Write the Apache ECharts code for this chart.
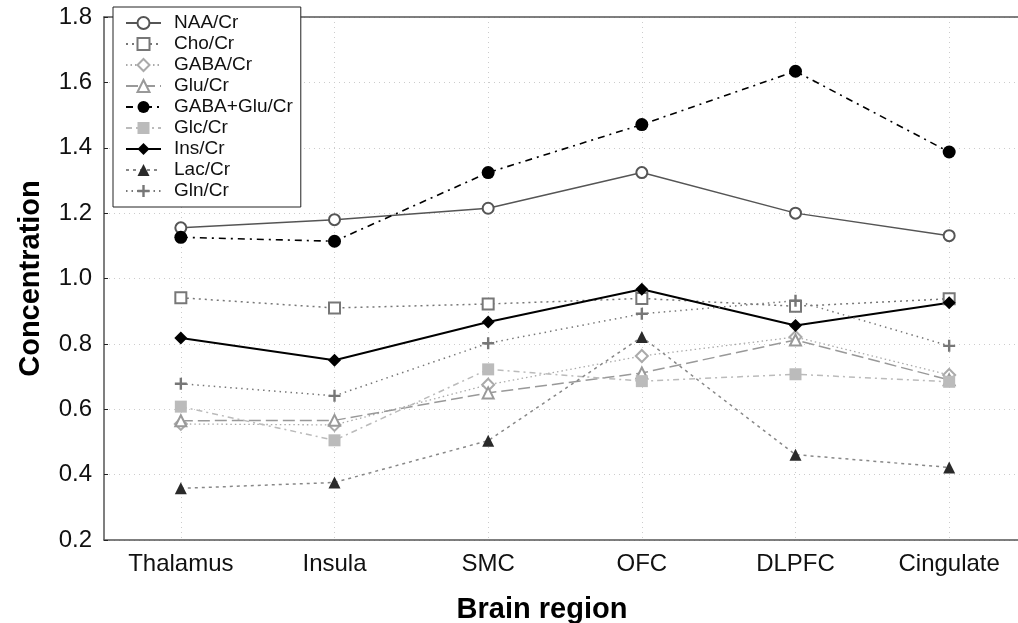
<!DOCTYPE html>
<html>
<head>
<meta charset="utf-8">
<script src="https://cdn.jsdelivr.net/npm/echarts@6/dist/echarts.min.js"></script>
<style>
  html, body { margin: 0; padding: 0; background: #fff; }
  #main { width: 1018px; height: 623px; }
</style>
</head>
<body>
<div id="main"></div>
<script>
var regions = ['Thalamus', 'Insula', 'SMC', 'OFC', 'DLPFC', 'Cingulate'];
var yTicks = [0.2, 1.8, 0.2]; // min, max, step

var naa = [1.155, 1.180, 1.215, 1.324, 1.200, 1.131];
var cho = [0.941, 0.910, 0.922, 0.939, 0.915, 0.938];
var gaba = [0.555, 0.552, 0.675, 0.763, 0.821, 0.705];
var glu = [0.565, 0.566, 0.650, 0.711, 0.812, 0.690];
var gabaGlu = [1.126, 1.114, 1.324, 1.471, 1.634, 1.387];
var glc = [0.608, 0.505, 0.722, 0.686, 0.707, 0.684];
var ins = [0.818, 0.750, 0.867, 0.967, 0.856, 0.926];
var lac = [0.358, 0.376, 0.504, 0.821, 0.461, 0.422];
var gln = [0.678, 0.641, 0.802, 0.892, 0.932, 0.794];

var chartDom = document.getElementById('main');
var myChart = echarts.init(chartDom);
var option;

var plus = 'path://M4,0H6V4H10V6H6V10H4V6H0V4H4Z';

function line(name, data, symbol, size, markColor, lineColor, lineType, width) {
    return {
        name: name,
        type: 'line',
        data: data,
        symbol: symbol,
        symbolSize: size,
        showAllSymbol: true,
        animation: false,
        itemStyle: { color: markColor, borderWidth: 1.5 },
        lineStyle: { color: lineColor, type: lineType, width: width }
    };
}

var series = [
    line('NAA/Cr', naa, 'emptyCircle', 11, '#555', '#555', 'solid', 1.5),
    line('Cho/Cr', cho, 'emptyRect', 11, '#777', '#777', [2, 4], 1.5),
    line('GABA/Cr', gaba, 'emptyDiamond', 12, '#aaa', '#aaa', [1.5, 3], 1.3),
    line('Glu/Cr', glu, 'emptyTriangle', 11, '#999', '#999', [12, 5], 1.5),
    line('GABA+Glu/Cr', gabaGlu, 'circle', 13, '#000', '#000', [7, 5, 2, 5], 1.6),
    line('Glc/Cr', glc, 'rect', 12, '#bbb', '#bbb', [6, 4, 2, 4], 1.5),
    line('Ins/Cr', ins, 'diamond', 13, '#000', '#000', 'solid', 2),
    line('Lac/Cr', lac, 'triangle', 12, '#2a2a2a', '#888', [3, 4], 1.5),
    line('Gln/Cr', gln, plus, 12, '#777', '#777', [1.5, 4], 1.5)
];

option = {
    backgroundColor: '#fff',
    textStyle: { fontFamily: 'Liberation Sans, Arial, sans-serif', color: '#000' },
    grid: { left: 104, right: -8, top: 17, bottom: 83, containLabel: false, outerBoundsMode: 'none' },
    legend: {
        data: series.map(function (s) { return s.name; }),
        orient: 'vertical',
        left: 113,
        top: 7,
        padding: [6, 8, 6, 12],
        itemWidth: 35,
        itemHeight: 15,
        itemGap: 1,
        borderColor: '#222',
        borderWidth: 1,
        backgroundColor: '#fff',
        z: 10,
        textStyle: { fontSize: 19, color: '#111', lineHeight: 20, padding: [0, 0, 0, 8] }
    },
    xAxis: [
        {
            type: 'category',
            data: regions,
            position: 'bottom',
            name: 'Brain region',
            nameLocation: 'middle',
            nameGap: 55,
            nameTextStyle: { fontSize: 29, fontWeight: 'bold', color: '#000', padding: [0, 46, 0, 0] },
            axisLine: { lineStyle: { color: '#555', width: 1.5 } },
            axisTick: { inside: true, alignWithLabel: true, length: 4, lineStyle: { color: '#222' } },
            axisLabel: { fontSize: 24, color: '#111', margin: 12 },
            splitLine: { show: true, alignWithLabel: true, lineStyle: { color: '#ccc', type: [1, 4] } }
        },
        {
            type: 'category',
            data: regions,
            position: 'top',
            axisLine: { lineStyle: { color: '#555', width: 1.5 } },
            axisTick: { inside: true, alignWithLabel: true, length: 4, lineStyle: { color: '#222' } },
            axisLabel: { show: false },
            splitLine: { show: false }
        }
    ],
    yAxis: {
        type: 'value',
        min: yTicks[0],
        max: yTicks[1],
        interval: yTicks[2],
        name: 'Concentration',
        nameLocation: 'middle',
        nameGap: 59,
        nameTextStyle: { fontSize: 29, fontWeight: 'bold', color: '#000' },
        axisLine: { show: true, lineStyle: { color: '#555', width: 1.5 } },
        axisTick: { show: true, inside: true, length: 4, lineStyle: { color: '#222' } },
        axisLabel: {
            fontSize: 24, color: '#111', margin: 12,
            formatter: function (v) { return v.toFixed(1); }
        },
        splitLine: { show: true, lineStyle: { color: '#ccc', type: [1, 4] } }
    },
    series: series
};

option && myChart.setOption(option);
</script>
</body>
</html>
